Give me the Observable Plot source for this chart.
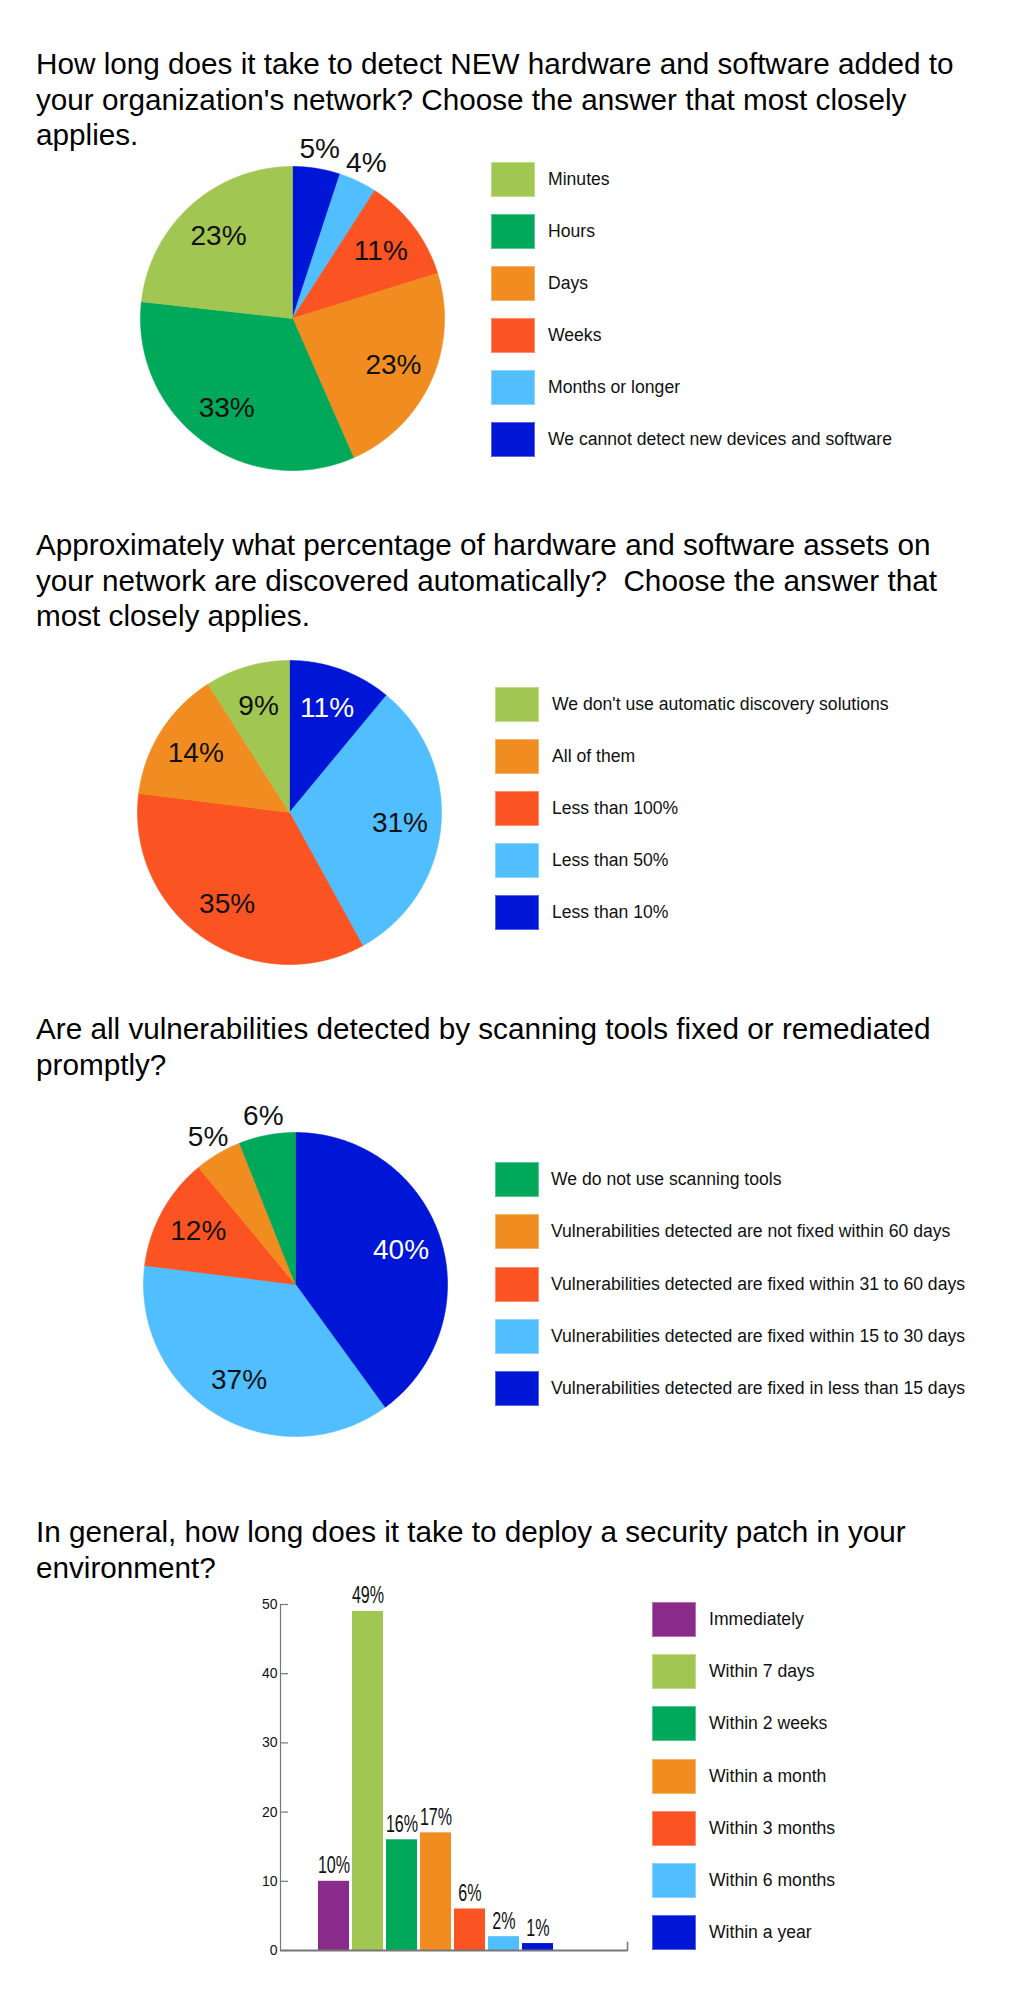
<!DOCTYPE html>
<html>
<head>
<meta charset="utf-8">
<script src="https://cdn.jsdelivr.net/npm/d3@7"></script>
<script src="https://cdn.jsdelivr.net/npm/@observablehq/plot@0.6"></script>
<style>
html, body { margin: 0; padding: 0; background: #fff; }
#page { position: relative; width: 1025px; height: 2002px; overflow: hidden;
  font-family: "Liberation Sans", Arial, sans-serif; color: #000; }
.tline { position: absolute; left: 36px; font-size: 29.7px; line-height: 35.5px; height: 35.5px; white-space: pre; z-index: 2; }
.legend { position: absolute; }
.item { position: absolute; left: 0; display: flex; align-items: center; height: 35px; }
.sw { width: 44px; height: 35px; flex: none; box-sizing: border-box; border: 1px solid rgba(255,255,255,0.35); }
.lab { font-size: 17.6px; margin-left: 13px; white-space: nowrap; color: #111; }
.chart { position: absolute; z-index: 1; }
.chart svg { overflow: visible; }
</style>
</head>
<body>
<div id="page"></div>
<script>
// ---------- palette ----------
const LIGHT_GREEN = "#a2c652";
const GREEN = "#00a85a";
const ORANGE = "#f08c20";
const RED = "#fb5321";
const LIGHT_BLUE = "#50beff";
const DARK_BLUE = "#0016d6";
const PURPLE = "#8a2a8a";

// ---------- data ----------
const q1Title = [
  "How long does it take to detect NEW hardware and software added to",
  "your organization's network? Choose the answer that most closely",
  "applies."
];
const q1Categories = ["Minutes", "Hours", "Days", "Weeks", "Months or longer", "We cannot detect new devices and software"];
const q1Values = [23, 33, 23, 11, 4, 5];
const q1Colors = [LIGHT_GREEN, GREEN, ORANGE, RED, LIGHT_BLUE, DARK_BLUE];

const q2Title = [
  "Approximately what percentage of hardware and software assets on",
  "your network are discovered automatically?  Choose the answer that",
  "most closely applies."
];
const q2Categories = ["We don't use automatic discovery solutions", "All of them", "Less than 100%", "Less than 50%", "Less than 10%"];
const q2Values = [9, 14, 35, 31, 11];
const q2Colors = [LIGHT_GREEN, ORANGE, RED, LIGHT_BLUE, DARK_BLUE];

const q3Title = [
  "Are all vulnerabilities detected by scanning tools fixed or remediated",
  "promptly?"
];
const q3Categories = [
  "We do not use scanning tools",
  "Vulnerabilities detected are not fixed within 60 days",
  "Vulnerabilities detected are fixed within 31 to 60 days",
  "Vulnerabilities detected are fixed within 15 to 30 days",
  "Vulnerabilities detected are fixed in less than 15 days"
];
const q3Values = [6, 5, 12, 37, 40];
const q3Colors = [GREEN, ORANGE, RED, LIGHT_BLUE, DARK_BLUE];

const q4Title = [
  "In general, how long does it take to deploy a security patch in your",
  "environment?"
];
const q4Categories = ["Immediately", "Within 7 days", "Within 2 weeks", "Within a month", "Within 3 months", "Within 6 months", "Within a year"];
const q4Values = [10, 49, 16, 17, 6, 2, 1];
const q4Colors = [PURPLE, LIGHT_GREEN, GREEN, ORANGE, RED, LIGHT_BLUE, DARK_BLUE];
const q4Ticks = [0, 10, 20, 30, 40, 50];

// ---------- helpers ----------
const page = document.getElementById("page");

function addTitle(lines, top) {
  lines.forEach((line, i) => {
    const d = document.createElement("div");
    d.className = "tline";
    d.style.top = (top + i * 35.5) + "px";
    d.textContent = line;
    page.appendChild(d);
  });
}

function addLegend(categories, colors, left, top, step, gap) {
  const lg = document.createElement("div");
  lg.className = "legend";
  lg.style.left = left + "px";
  lg.style.top = top + "px";
  categories.forEach((c, i) => {
    const it = document.createElement("div");
    it.className = "item";
    it.style.top = (i * step) + "px";
    const sw = document.createElement("div");
    sw.className = "sw";
    sw.style.background = colors[i];
    const lab = document.createElement("div");
    lab.className = "lab";
    lab.style.marginLeft = gap + "px";
    lab.textContent = c;
    it.appendChild(sw);
    it.appendChild(lab);
    lg.appendChild(it);
  });
  page.appendChild(lg);
}

function addPie(categories, values, colors, cx, cy) {
  const r = 152, half = 220;
  const R = half / r;
  const rows = categories.map((c, i) => ({category: c, value: values[i], color: colors[i]})).reverse();
  const arcs = d3.pie().sort(null).value(d => d.value)(rows);
  const pts = [];
  for (const a of arcs) {
    pts.push({category: a.data.category, x: 0, y: 0});
    const n = Math.max(2, Math.ceil((a.endAngle - a.startAngle) / (Math.PI / 360)));
    for (let k = 0; k <= n; k++) {
      const t = a.startAngle + (a.endAngle - a.startAngle) * k / n;
      pts.push({category: a.data.category, x: Math.sin(t), y: Math.cos(t)});
    }
    pts.push({category: a.data.category, x: 0, y: 0});
  }
  const labels = arcs.map(a => {
    const m = (a.startAngle + a.endAngle) / 2;
    const out = a.data.value < 7;
    const rr = out ? 1.13 : 0.73;
    return {text: a.data.value + "%", x: rr * Math.sin(m), y: rr * Math.cos(m),
            white: !out && a.data.color === DARK_BLUE};
  });
  const svg = Plot.plot({
    width: 2 * half, height: 2 * half, margin: 0,
    style: {background: "transparent", fontFamily: "Liberation Sans, Arial, sans-serif"},
    x: {domain: [-R, R], axis: null},
    y: {domain: [-R, R], axis: null},
    color: {domain: categories, range: colors},
    marks: [
      Plot.line(pts, {x: "x", y: "y", z: "category", fill: "category", stroke: "category", strokeWidth: 0.6, curve: "linear"}),
      Plot.text(labels.filter(d => !d.white), {x: "x", y: "y", text: "text", fill: "#111", fontSize: 28}),
      Plot.text(labels.filter(d => d.white), {x: "x", y: "y", text: "text", fill: "#fff", fontSize: 28})
    ]
  });
  const wrap = document.createElement("div");
  wrap.className = "chart";
  wrap.style.left = (cx - half) + "px";
  wrap.style.top = (cy - half) + "px";
  wrap.appendChild(svg);
  page.appendChild(wrap);
}

function addBars(top) {
  const rows = q4Categories.map((c, i) => ({category: c, value: q4Values[i]}));
  const W = 640, H = 396, mt = 29, mb = 21, ml = 280, mr = 13;
  const fw = W - ml - mr, fh = H - mt - mb;
  const svg = Plot.plot({
    width: W, height: H, marginTop: mt, marginBottom: mb, marginLeft: ml, marginRight: mr,
    style: {background: "transparent", fontFamily: "Liberation Sans, Arial, sans-serif", fontSize: "14px", color: "#111"},
    x: {domain: q4Categories, range: [316, 556], paddingInner: 0.08, paddingOuter: 0, axis: null},
    y: {domain: [0, 50], axis: null},
    color: {domain: q4Categories, range: q4Colors},
    marks: [
      Plot.barY(rows, {x: "category", y: "value", fill: "category"}),
      Plot.frame({anchor: "left", stroke: "#777", strokeWidth: 1.2}),
      Plot.ruleY(q4Ticks, {y: d => d, insetRight: fw - 8, stroke: "#777", strokeWidth: 1.2}),
      Plot.ruleY([0], {stroke: "#777", strokeWidth: 2.2}),
      Plot.frame({anchor: "right", insetTop: fh - 8, stroke: "#777", strokeWidth: 1.5}),
      Plot.axisY({ticks: q4Ticks, tickSize: 0, tickPadding: 3, fontSize: 14, label: null}),
      Plot.text(rows, {x: "category", y: "value", text: d => d.value + "%", dy: -8, lineAnchor: "bottom",
        fontSize: 23, fill: "#111", className: "barlabel"})
    ]
  });
  // condense the bar value labels horizontally
  svg.querySelectorAll(".barlabel text").forEach(t => {
    const tr = t.getAttribute("transform");
    if (tr) t.setAttribute("transform", tr + " scale(0.7,1)");
  });
  const wrap = document.createElement("div");
  wrap.className = "chart";
  wrap.style.left = "0px";
  wrap.style.top = top + "px";
  wrap.appendChild(svg);
  page.appendChild(wrap);
}

// ---------- chart 1 ----------
addTitle(q1Title, 46);
addPie(q1Categories, q1Values, q1Colors, 292, 318);
addLegend(q1Categories, q1Colors, 491, 162, 52, 13);

// ---------- chart 2 ----------
addTitle(q2Title, 527);
addPie(q2Categories, q2Values, q2Colors, 289, 812);
addLegend(q2Categories, q2Colors, 495, 687, 52, 13);

// ---------- chart 3 ----------
addTitle(q3Title, 1011);
addPie(q3Categories, q3Values, q3Colors, 295, 1284);
addLegend(q3Categories, q3Colors, 495, 1162, 52.25, 12);

// ---------- chart 4 ----------
addTitle(q4Title, 1514);
addBars(1575);
addLegend(q4Categories, q4Colors, 652, 1602, 52.17, 13);
</script>
</body>
</html>
